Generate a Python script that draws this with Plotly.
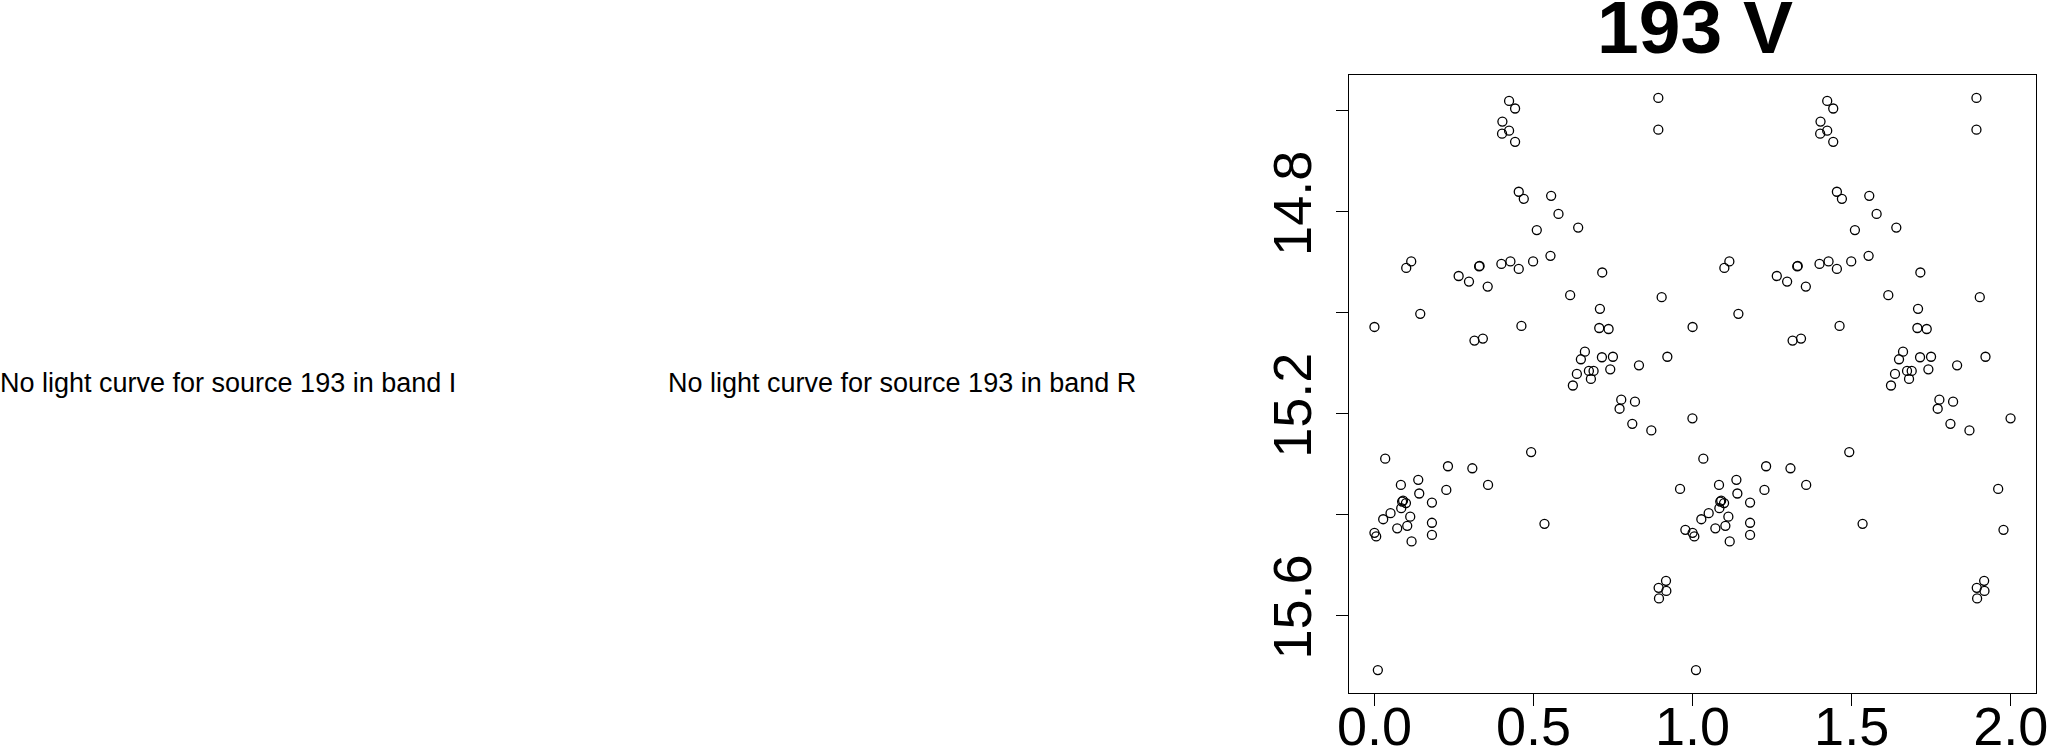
import plotly.graph_objects as go

# Phase-folded light curve, source 193, band V (phase in [0,1), plotted twice)
phase = [0.000, 0.000, 0.0055, 0.0107, 0.0275, 0.0338, 0.0506, 0.0716, 0.0831, 0.0842,
         0.087, 0.090, 0.099, 0.0999, 0.1031, 0.1125, 0.1156, 0.1167, 0.1377, 0.1408,
         0.1440, 0.1807, 0.1807, 0.1807, 0.2259, 0.2311, 0.2647, 0.2972, 0.3077, 0.3144,
         0.329, 0.3305, 0.3408, 0.3560, 0.3571, 0.3990, 0.4011, 0.4022, 0.4232, 0.4232,
         0.4274, 0.4421, 0.4421, 0.4536, 0.4536, 0.4620, 0.4694, 0.4925, 0.4987, 0.5103,
         0.5344, 0.5533, 0.5554, 0.5785, 0.6152, 0.6237, 0.6363, 0.6404, 0.6489, 0.6615,
         0.6741, 0.6804, 0.6888, 0.7066, 0.7087, 0.7150, 0.7160, 0.7360, 0.7412, 0.7496,
         0.7705, 0.7758, 0.8105, 0.8189, 0.8315, 0.8703, 0.8923, 0.8923, 0.8933, 0.8944,
         0.9028, 0.9165, 0.9175, 0.9207, 0.9606, 0.9773, 0.9995]
mag = [15.029, 15.437, 15.444, 15.709, 15.410, 15.290, 15.398, 15.428, 15.342, 15.388,
       15.375, 15.373, 15.378, 14.912, 15.423, 15.405, 14.899, 15.454, 15.332, 15.359,
       15.003, 15.377, 15.417, 15.441, 15.352, 15.305, 14.928, 14.939, 15.309, 15.056,
       14.909, 14.908, 15.052, 14.949, 15.342, 14.904, 14.646, 14.622, 14.640, 14.581,
       14.899, 14.596, 14.662, 14.914, 14.761, 15.027, 14.775, 15.277, 14.899, 14.837,
       15.419, 14.888, 14.769, 14.805, 14.966, 15.145, 15.122, 14.832, 15.093, 15.078,
       15.116, 15.132, 15.116, 15.031, 14.993, 15.089, 14.921, 15.033, 15.113, 15.088,
       15.191, 15.173, 15.221, 15.177, 15.105, 15.234, 14.575, 14.638, 15.546, 15.567,
       14.970, 15.532, 15.552, 15.088, 15.350, 15.431, 15.210]

x_ticks = [0.0, 0.5, 1.0, 1.5, 2.0]
x_labels = ["0.0", "0.5", "1.0", "1.5", "2.0"]
y_ticks = [14.6, 14.8, 15.0, 15.2, 15.4, 15.6]
y_labels = ["", "14.8", "", "15.2", "", "15.6"]

title_text = "193 V"
msg_I = "No light curve for source 193 in band I"
msg_R = "No light curve for source 193 in band R"

x_all = phase + [p + 1 for p in phase]
y_all = mag + mag

W, H = 2051, 750
FONT = "Liberation Sans, Arial, sans-serif"


def px_x(v):
    return v / W


def px_y(v):
    return 1 - v / H


fig = go.Figure()
fig.add_trace(go.Scatter(
    x=x_all, y=y_all, mode="markers",
    marker=dict(symbol="circle-open", size=9, color="black",
                line=dict(width=1.3, color="black")),
    showlegend=False, hoverinfo="x+y"))

ymin, ymax = min(mag), max(mag)
pad_y = 0.04 * (ymax - ymin)
xmin, xmax = min(x_all), max(x_all)
pad_x = 0.04 * (xmax - xmin)

axis_common = dict(showgrid=False, zeroline=False, showline=True, mirror=True,
                   linecolor="black", linewidth=1, ticks="outside", ticklen=12,
                   tickwidth=1, tickcolor="black", automargin=False,
                   tickfont=dict(family=FONT, size=54, color="black"))

fig.update_layout(
    width=W, height=H,
    margin=dict(l=0, r=0, t=0, b=0, pad=0),
    paper_bgcolor="white", plot_bgcolor="white",
    xaxis=dict(domain=[px_x(1349), px_x(2036)],
               range=[xmin - pad_x, xmax + pad_x],
               tickmode="array", tickvals=x_ticks, ticktext=x_labels,
               ticklabelstandoff=-26,
               **axis_common),
    yaxis=dict(domain=[px_y(693), px_y(75)],
               range=[ymax + pad_y, ymin - pad_y],
               tickmode="array", tickvals=y_ticks, ticktext=y_labels,
               tickangle=-90, ticklabelstandoff=3, **axis_common),
    annotations=[
        dict(text="<b>" + title_text + "</b>", xref="paper", yref="paper",
             x=px_x(1694.5), y=px_y(27), xanchor="center", yanchor="middle",
             showarrow=False, font=dict(family=FONT, size=75, color="black")),
        dict(text=msg_I, xref="paper", yref="paper",
             x=px_x(-2), y=px_y(383), xanchor="left", yanchor="middle",
             showarrow=False, font=dict(family=FONT, size=27, color="black")),
        dict(text=msg_R, xref="paper", yref="paper",
             x=px_x(666), y=px_y(383), xanchor="left", yanchor="middle",
             showarrow=False, font=dict(family=FONT, size=27, color="black")),
    ],
)

fig.write_html(
    "out.html",
    config={"displayModeBar": False},
    post_script="document.body.style.margin='0';document.body.style.overflow='hidden';",
)
